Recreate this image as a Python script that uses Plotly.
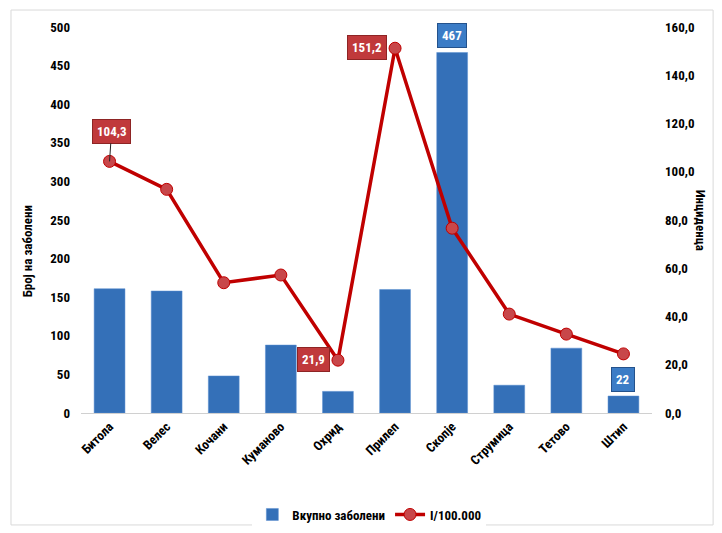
import plotly.graph_objects as go

categories = ["Битола", "Велес", "Кочани", "Куманово", "Охрид", "Прилеп", "Скопје", "Струмица", "Тетово", "Штип"]
cases = [161, 158, 48, 88, 28, 160, 467, 36, 84, 22]
incidence = [104.3, 92.7, 54.0, 57.2, 21.9, 151.2, 76.6, 41.0, 32.7, 24.5]

bar_name = "Вкупно заболени"
line_name = "I/100.000"
left_title = "Број на заболени"
right_title = "Инциденца"

FONT = "Liberation Sans Narrow, Roboto Condensed, Roboto, sans-serif"
TICKFONT = dict(size=13, family=FONT, color="#000", weight="bold")

fig = go.Figure()
fig.add_trace(go.Bar(
    x=categories, y=cases, name=bar_name,
    marker=dict(color="#3470b8", line=dict(color="#5b8fd0", width=0.5)),
    yaxis="y",
))
fig.add_trace(go.Scatter(
    x=categories, y=incidence, name=line_name, mode="lines+markers",
    line=dict(color="#c00000", width=3.5),
    marker=dict(size=12, color="#c8474a", line=dict(color="#c00000", width=1)),
    yaxis="y2",
))

def fmt(v):
    return f"{v:.1f}".replace(".", ",")

annotations = []
red_box = dict(bgcolor="#c0393b", bordercolor="#8e2424", borderwidth=1, borderpad=4,
               font=dict(color="white", size=13, family=FONT))
i = 0
annotations.append(dict(x=categories[i], y=incidence[i], xref="x", yref="y2",
                        text=f"<b>{fmt(incidence[i])}</b>", showarrow=True,
                        arrowhead=0, arrowwidth=1, arrowcolor="#222222",
                        ax=2, ay=-30, **red_box))
for i in (4, 5):
    annotations.append(dict(x=categories[i], y=incidence[i], xref="x", yref="y2",
                            text=f"<b>{fmt(incidence[i])}</b>", showarrow=False,
                            xanchor="right", xshift=-8, yshift=1, **red_box))
blue_box = dict(bgcolor="#3b7cc6", bordercolor="#24528c", borderwidth=1, borderpad=4,
                font=dict(color="white", size=13, family=FONT))
for i in (6, 9):
    annotations.append(dict(x=categories[i], y=cases[i], xref="x", yref="y",
                            text=f"<b>{cases[i]}</b>", showarrow=False,
                            yanchor="bottom", yshift=4, **blue_box))
annotations.append(dict(x=-0.109, y=0.42, xref="paper", yref="paper", text=f"<b>{left_title}</b>",
                        textangle=-90, showarrow=False, font=dict(size=13, family=FONT, color="#000")))
annotations.append(dict(x=1.103, y=0.50, xref="paper", yref="paper", text=f"<b>{right_title}</b>",
                        textangle=90, showarrow=False, font=dict(size=13, family=FONT, color="#000")))

fig.update_layout(
    width=722, height=533,
    margin=dict(l=73, r=78, t=19, b=128),
    paper_bgcolor="white", plot_bgcolor="white",
    separators=", ",
    font=dict(family=FONT, size=13, color="#000"),
    bargap=0.46,
    showlegend=True,
    legend=dict(orientation="h", x=0.505, xanchor="center", y=-0.263, yanchor="middle",
                font=dict(size=13, family=FONT, weight="bold"), traceorder="normal"),
    xaxis=dict(showline=True, linecolor="#d0d0d0", linewidth=1, ticks="", automargin=False,
               range=[-0.5, 9.5], tickangle=-45, tickfont=TICKFONT, showgrid=False),
    yaxis=dict(range=[0, 500], dtick=50, showgrid=False, zeroline=False, showline=False,
               automargin=False, ticks="", tickfont=TICKFONT, ticklabelstandoff=10),
    yaxis2=dict(range=[0, 160], dtick=20, overlaying="y", side="right", tickformat=".1f",
                automargin=False, showgrid=False, zeroline=False, showline=False, ticks="",
                tickfont=TICKFONT, ticklabelstandoff=12),
    annotations=annotations,
    shapes=[dict(type="rect", xref="paper", yref="paper", x0=-0.1226, x1=1.107, y0=-0.29, y1=1.044,
                 line=dict(color="#d9d9d9", width=1), fillcolor="rgba(0,0,0,0)", layer="below")],
)

fig.write_html("out.html")
